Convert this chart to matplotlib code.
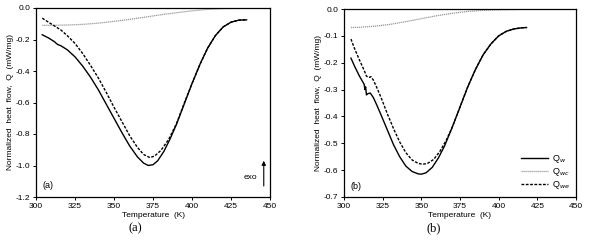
import matplotlib
matplotlib.use("Agg")
import matplotlib.pyplot as plt

plt.rcParams['font.family'] = ['Liberation Sans', 'DejaVu Sans']

# ---- Panel (a) data ----
Ta_w = [304, 308, 312, 313, 314, 316, 320, 325, 330, 335, 340, 345, 350, 355, 360,
        365, 369, 372, 375, 378, 382, 386, 390, 395, 400, 405, 410, 415, 420, 425, 430, 435]
Qa_w = [-0.17, -0.19, -0.215, -0.225, -0.232, -0.24, -0.265, -0.31, -0.37, -0.44, -0.52,
        -0.61, -0.70, -0.79, -0.875, -0.945, -0.985, -1.0, -0.995, -0.97, -0.91, -0.83,
        -0.74, -0.61, -0.48, -0.36, -0.255, -0.175, -0.12, -0.09, -0.077, -0.075]
Ta_we = [304, 308, 312, 316, 320, 325, 330, 335, 340, 345, 350, 355, 360, 365, 369,
         373, 376, 380, 385, 390, 395, 400, 405, 410, 415, 420, 425, 430, 435]
Qa_we = [-0.065, -0.09, -0.115, -0.14, -0.175, -0.225, -0.29, -0.365, -0.445, -0.535,
         -0.63, -0.72, -0.81, -0.885, -0.93, -0.95, -0.94, -0.905, -0.835, -0.735,
         -0.605, -0.48, -0.36, -0.255, -0.175, -0.12, -0.09, -0.077, -0.075]
Ta_wc = [304, 310, 320, 330, 340, 350, 360, 370, 380, 390, 400, 410, 420, 430, 435]
Qa_wc = [-0.11, -0.11, -0.108, -0.104, -0.096, -0.085, -0.072, -0.058, -0.043, -0.03,
         -0.018, -0.009, -0.004, -0.002, -0.002]

# ---- Panel (b) data ----
Tb_w = [304.5, 307, 310, 312, 313, 313.5, 314, 314.5, 315.5, 317, 319, 321, 324, 328,
        332, 336, 340, 344, 348, 350, 353, 357, 361, 365, 370, 375, 380, 385, 390,
        395, 400, 405, 410, 415, 418]
Qb_w = [-0.183, -0.215, -0.25, -0.27, -0.28, -0.30, -0.29, -0.32, -0.315, -0.313,
        -0.33, -0.355, -0.395, -0.45, -0.505, -0.55, -0.585, -0.605, -0.614, -0.615,
        -0.61, -0.59, -0.555, -0.51, -0.44, -0.365, -0.29, -0.225, -0.17, -0.13,
        -0.1, -0.083, -0.074, -0.07, -0.069]
Tb_we = [304.5, 307, 310, 312, 313.5, 314.5, 316, 317.5, 319, 321, 324, 328, 332, 336,
         340, 344, 348, 351, 354, 358, 362, 366, 370, 375, 380, 385, 390, 395, 400,
         405, 410, 415, 418]
Qb_we = [-0.112, -0.15, -0.19, -0.215, -0.235, -0.25, -0.255, -0.252, -0.265, -0.29,
         -0.33, -0.39, -0.445, -0.495, -0.535, -0.562, -0.575, -0.578, -0.575, -0.56,
         -0.53, -0.49, -0.44, -0.365, -0.29, -0.225, -0.17, -0.13, -0.1, -0.083,
         -0.074, -0.07, -0.069]
Tb_wc = [304.5, 310, 320, 330, 340, 350, 360, 370, 380, 390, 400, 410, 418]
Qb_wc = [-0.069, -0.068, -0.064, -0.057, -0.047, -0.036, -0.025, -0.016, -0.009,
         -0.005, -0.003, -0.002, -0.001]

xticks = [300, 325, 350, 375, 400, 425, 450]
yticks_a = [0.0, -0.2, -0.4, -0.6, -0.8, -1.0, -1.2]
yticks_b = [0.0, -0.1, -0.2, -0.3, -0.4, -0.5, -0.6, -0.7]
legend_labels = ['Q$_{w}$', 'Q$_{wc}$', 'Q$_{we}$']

W, H = 589, 241
fig = plt.figure(figsize=(W / 100, H / 100), dpi=100)

def box(l, t, r, b):
    return [l / W, 1 - b / H, (r - l) / W, (b - t) / H]

axa = fig.add_axes(box(36, 8, 270, 197))
axb = fig.add_axes(box(344, 9, 576, 197))

lw = 1.0
for ax, Tw, Qw, Twe, Qwe, Twc, Qwc in [
        (axa, Ta_w, Qa_w, Ta_we, Qa_we, Ta_wc, Qa_wc),
        (axb, Tb_w, Qb_w, Tb_we, Qb_we, Tb_wc, Qb_wc)]:
    ax.plot(Tw, Qw, color='black', lw=lw, ls='-', label=legend_labels[0])
    ax.plot(Twc, Qwc, color='#999999', lw=0.9, ls=(0, (1, 0.6)), label=legend_labels[1])
    ax.plot(Twe, Qwe, color='black', lw=lw, ls=(0, (2.0, 1.1)), label=legend_labels[2])
    ax.set_xlim(300, 450)
    ax.set_xticks(xticks)
    ax.tick_params(labelsize=6, length=2.5, width=0.7, pad=1.5, direction='out')
    for s in ax.spines.values():
        s.set_linewidth(0.9)
    ax.set_xlabel('Temperature  (K)', fontsize=6, labelpad=1.5)
    ax.set_ylabel('Normalized  heat  flow,  Q  (mW/mg)', fontsize=6, labelpad=1.5)

axa.set_ylim(-1.2, 0.0)
axa.set_yticks(yticks_a)
axa.set_yticklabels([f'{v:.1f}' for v in yticks_a])
axb.set_ylim(-0.7, 0.0)
axb.set_yticks(yticks_b)
axb.set_yticklabels([f'{v:.1f}' for v in yticks_b])

axa.text(304, -1.13, '(a)', fontsize=6.5, va='center', ha='left')
axb.text(304, -0.66, '(b)', fontsize=6.5, va='center', ha='left')

axa.text(442, -1.075, 'exo', fontsize=6, ha='right', va='center')
axa.annotate('', xy=(446, -0.97), xytext=(446, -1.13),
             arrowprops=dict(arrowstyle='-|>', color='black', lw=0.8,
                             mutation_scale=6, shrinkA=0, shrinkB=0))

axb.legend(loc='lower right', frameon=False, fontsize=6.5, handlelength=3.0,
           handletextpad=0.4, labelspacing=0.1, borderaxespad=0.3,
           bbox_to_anchor=(1.0, 0.0))

fig.text(135 / W, 1 - 228 / H, '(a)', family='Liberation Serif', fontsize=9,
         ha='center', va='center')
fig.text(434 / W, 1 - 228 / H, '(b)', family='Liberation Serif', fontsize=9,
         ha='center', va='center')

fig.savefig('out.png', dpi=100)
